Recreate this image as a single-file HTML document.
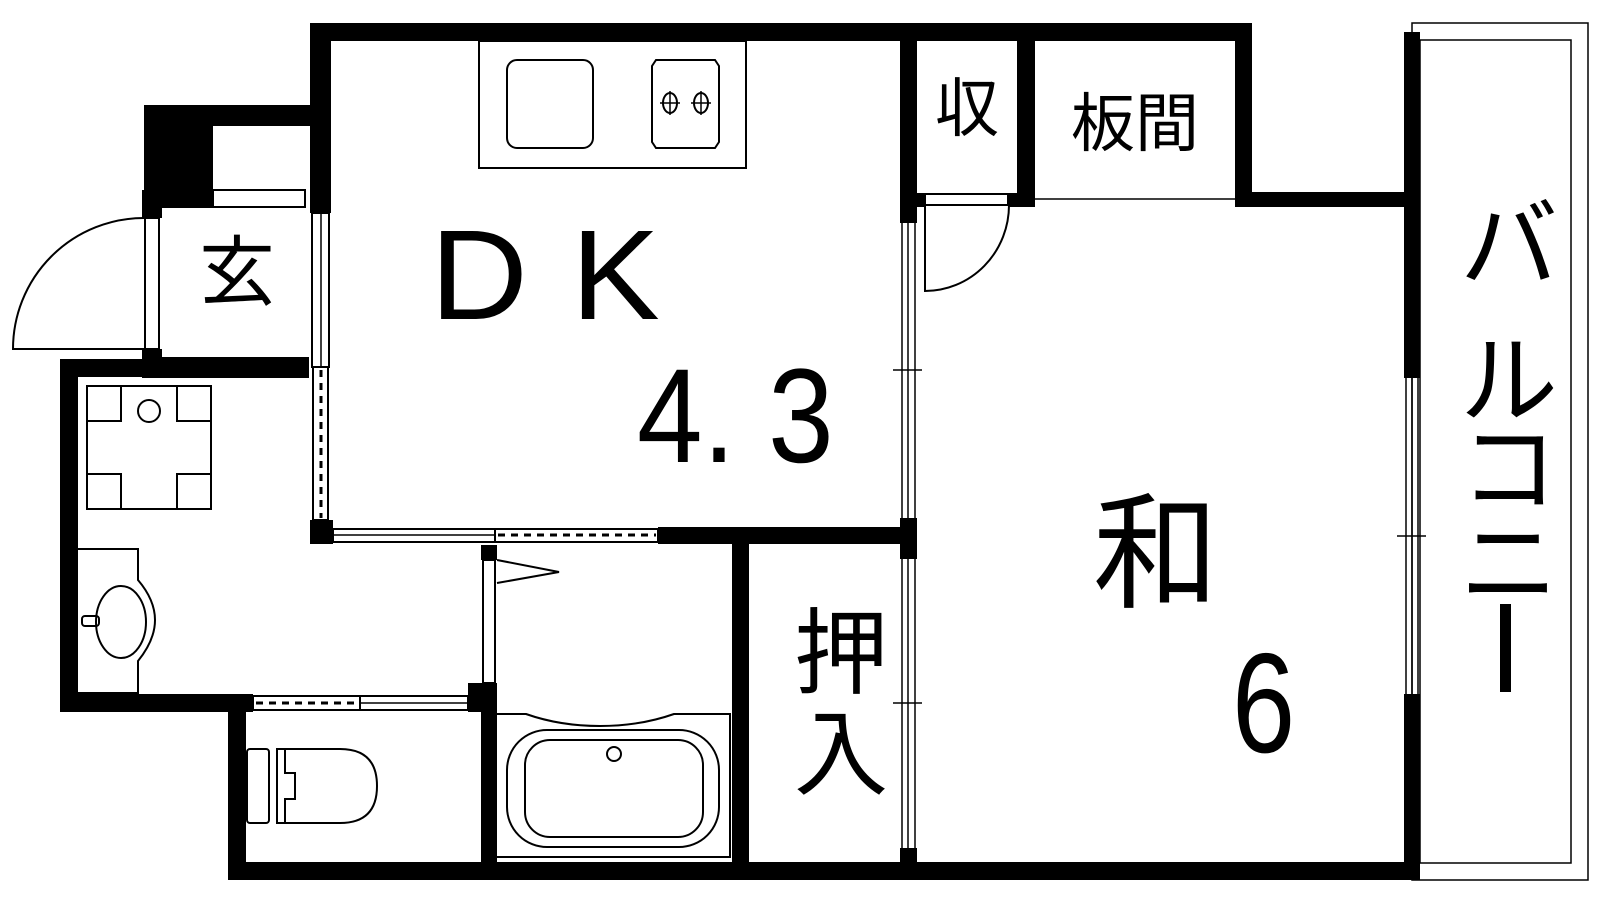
<!DOCTYPE html>
<html><head><meta charset="utf-8"><style>
html,body{margin:0;padding:0;background:#fff;}
body{width:1600px;height:900px;overflow:hidden;position:relative;}
.t{position:absolute;font-family:"Liberation Sans","Noto Sans CJK JP",sans-serif;color:#000;line-height:1;white-space:nowrap;}
</style></head><body>
<svg width="1600" height="900" viewBox="0 0 1600 900" style="position:absolute;left:0;top:0">
<g fill="#000">
<rect x="310" y="23" width="942" height="18"/>
<rect x="310" y="23" width="21" height="190"/>
<rect x="144" y="105" width="187" height="21"/>
<rect x="144" y="105" width="69" height="103"/>
<rect x="142" y="190" width="20" height="28"/>
<rect x="142" y="349" width="20" height="28"/>
<rect x="142" y="357" width="167" height="21"/>
<rect x="60" y="359" width="102" height="18"/>
<rect x="60" y="359" width="18" height="353"/>
<rect x="60" y="694" width="193" height="18"/>
<rect x="468" y="683" width="29" height="29"/>
<rect x="228" y="694" width="18" height="186"/>
<rect x="228" y="862" width="1192" height="18"/>
<rect x="481" y="545" width="16" height="15"/>
<rect x="481" y="683" width="16" height="179"/>
<rect x="310" y="520" width="23" height="24"/>
<rect x="658" y="527" width="259" height="17"/>
<rect x="732" y="544" width="17" height="318"/>
<rect x="900" y="41" width="17" height="182"/>
<rect x="900" y="518" width="17" height="41"/>
<rect x="900" y="848" width="17" height="14"/>
<rect x="1017" y="41" width="18" height="166"/>
<rect x="900" y="193" width="25" height="14"/>
<rect x="1008" y="193" width="27" height="14"/>
<rect x="1235" y="23" width="17" height="184"/>
<rect x="1235" y="192" width="185" height="15"/>
<rect x="1404" y="32" width="16" height="346"/>
<rect x="1404" y="694" width="16" height="186"/>
</g>
<g fill="none" stroke="#000" stroke-width="2">
<rect x="213" y="190" width="92" height="17"/>
<rect x="145" y="218" width="14" height="131"/>
<path d="M144 349 H13 A131 131 0 0 1 144 218"/>
<rect x="312" y="213" width="17" height="154"/>
<line x1="321" y1="213" x2="321" y2="367" stroke-width="1.5"/>
<rect x="313" y="367" width="15" height="153"/>
<line x1="321" y1="370" x2="321" y2="518" stroke-dasharray="7,6" stroke-width="3"/>
<rect x="333" y="529" width="162" height="13"/>
<line x1="333" y1="535" x2="495" y2="535" stroke-width="1.5"/>
<rect x="495" y="529" width="163" height="13"/>
<line x1="498" y1="535" x2="656" y2="535" stroke-dasharray="7,6" stroke-width="3"/>
<rect x="253" y="696" width="107" height="14"/>
<line x1="256" y1="703" x2="358" y2="703" stroke-dasharray="7,6" stroke-width="3"/>
<rect x="360" y="696" width="108" height="14"/>
<line x1="360" y1="703" x2="468" y2="703" stroke-width="1.5"/>
<rect x="483" y="560" width="12" height="123"/>
<path d="M497 560 L559 572 L497 583"/>
<line x1="902" y1="223" x2="902" y2="518" stroke-width="1.5"/>
<line x1="908" y1="223" x2="908" y2="518" stroke-width="1.5"/>
<line x1="915" y1="223" x2="915" y2="518" stroke-width="1.5"/>
<line x1="893" y1="370" x2="922" y2="370" stroke-width="1.5"/>
<line x1="902" y1="559" x2="902" y2="848" stroke-width="1.5"/>
<line x1="908" y1="559" x2="908" y2="848" stroke-width="1.5"/>
<line x1="915" y1="559" x2="915" y2="848" stroke-width="1.5"/>
<line x1="893" y1="703" x2="922" y2="703" stroke-width="1.5"/>
<rect x="925" y="194" width="83" height="11"/>
<path d="M925 205 V291 A84 86 0 0 0 1009 205"/>
<line x1="1035" y1="199" x2="1235" y2="199" stroke-width="1.5"/>
<rect x="1412" y="23" width="176" height="857" stroke-width="1.5"/>
<rect x="1420" y="40" width="151" height="823" stroke-width="1.5"/>
<line x1="1406" y1="378" x2="1406" y2="694" stroke-width="1.5"/>
<line x1="1412" y1="378" x2="1412" y2="694" stroke-width="1.5"/>
<line x1="1418" y1="378" x2="1418" y2="694" stroke-width="1.5"/>
<line x1="1397" y1="536" x2="1426" y2="536" stroke-width="1.5"/>
<rect x="479" y="41" width="267" height="127"/>
<rect x="507" y="60" width="86" height="88" rx="10"/>
<path d="M656 60 H715 L719 66 V142 L715 148 H656 L652 142 V66 Z"/>
<ellipse cx="670" cy="103" rx="7" ry="10"/>
<ellipse cx="701" cy="103" rx="7" ry="10"/>
<path d="M660 103 H680 M670 91 V115 M691 103 H711 M701 91 V115" stroke-width="1.5"/>
<rect x="87" y="386" width="124" height="123"/>
<path d="M87 421 H121 V386 M211 421 H177 V386 M87 474 H121 V509 M211 474 H177 V509"/>
<circle cx="149" cy="411" r="11"/>
<path d="M78 549 H138 V580 Q155 600 155 620 Q155 640 138 661 V693 H78"/>
<ellipse cx="121" cy="622" rx="25" ry="36"/>
<rect x="82" y="616" width="17" height="10" rx="3"/>
<rect x="247" y="749" width="22" height="74" rx="3"/>
<path d="M277 749 H340 Q377 749 377 786 Q377 823 340 823 H277 Z"/>
<path d="M277 749 V823 M285 749 V773 H295 V799 H285 V823"/>
<path d="M497 714 H526 Q560 726 600 726 Q640 726 674 714 H730 V857 H497"/>
<rect x="507" y="730" width="212" height="117" rx="40"/>
<rect x="525" y="740" width="178" height="97" rx="25"/>
<ellipse cx="614" cy="754" rx="7" ry="7"/>
</g>
</svg>
<div class="t" style="left:199px;top:236px;font-size:76px;">玄</div>
<div class="t" style="left:430px;top:212px;font-size:128px;transform:scaleX(1.06);transform-origin:left top;">D</div>
<div class="t" style="left:571px;top:212px;font-size:128px;transform:scaleX(1.04);transform-origin:left top;">K</div>
<div class="t" style="left:637px;top:350px;font-size:134px;transform:scaleX(0.88);transform-origin:left top;">4.&nbsp;3</div>
<div class="t" style="left:935px;top:77px;font-size:64px;">収</div>
<div class="t" style="left:1071px;top:92px;font-size:64px;">板間</div>
<div class="t" style="left:1093px;top:492px;font-size:126px;">和</div>
<div class="t" style="left:1232px;top:633px;font-size:142px;transform:scaleX(0.8);transform-origin:left top;">6</div>
<div class="t" style="left:794px;top:607px;font-size:94px;">押</div>
<div class="t" style="left:794px;top:708px;font-size:94px;">入</div>
<div class="t" style="left:1460px;top:196px;font-size:98px;">バ</div>
<div class="t" style="left:1460px;top:332px;font-size:98px;">ル</div>
<div class="t" style="left:1460px;top:420px;font-size:98px;">コ</div>
<div class="t" style="left:1460px;top:515px;font-size:98px;">ニ</div>
<div style="position:absolute;left:1500px;top:604px;width:11px;height:88px;background:#000;"></div>
</body></html>
